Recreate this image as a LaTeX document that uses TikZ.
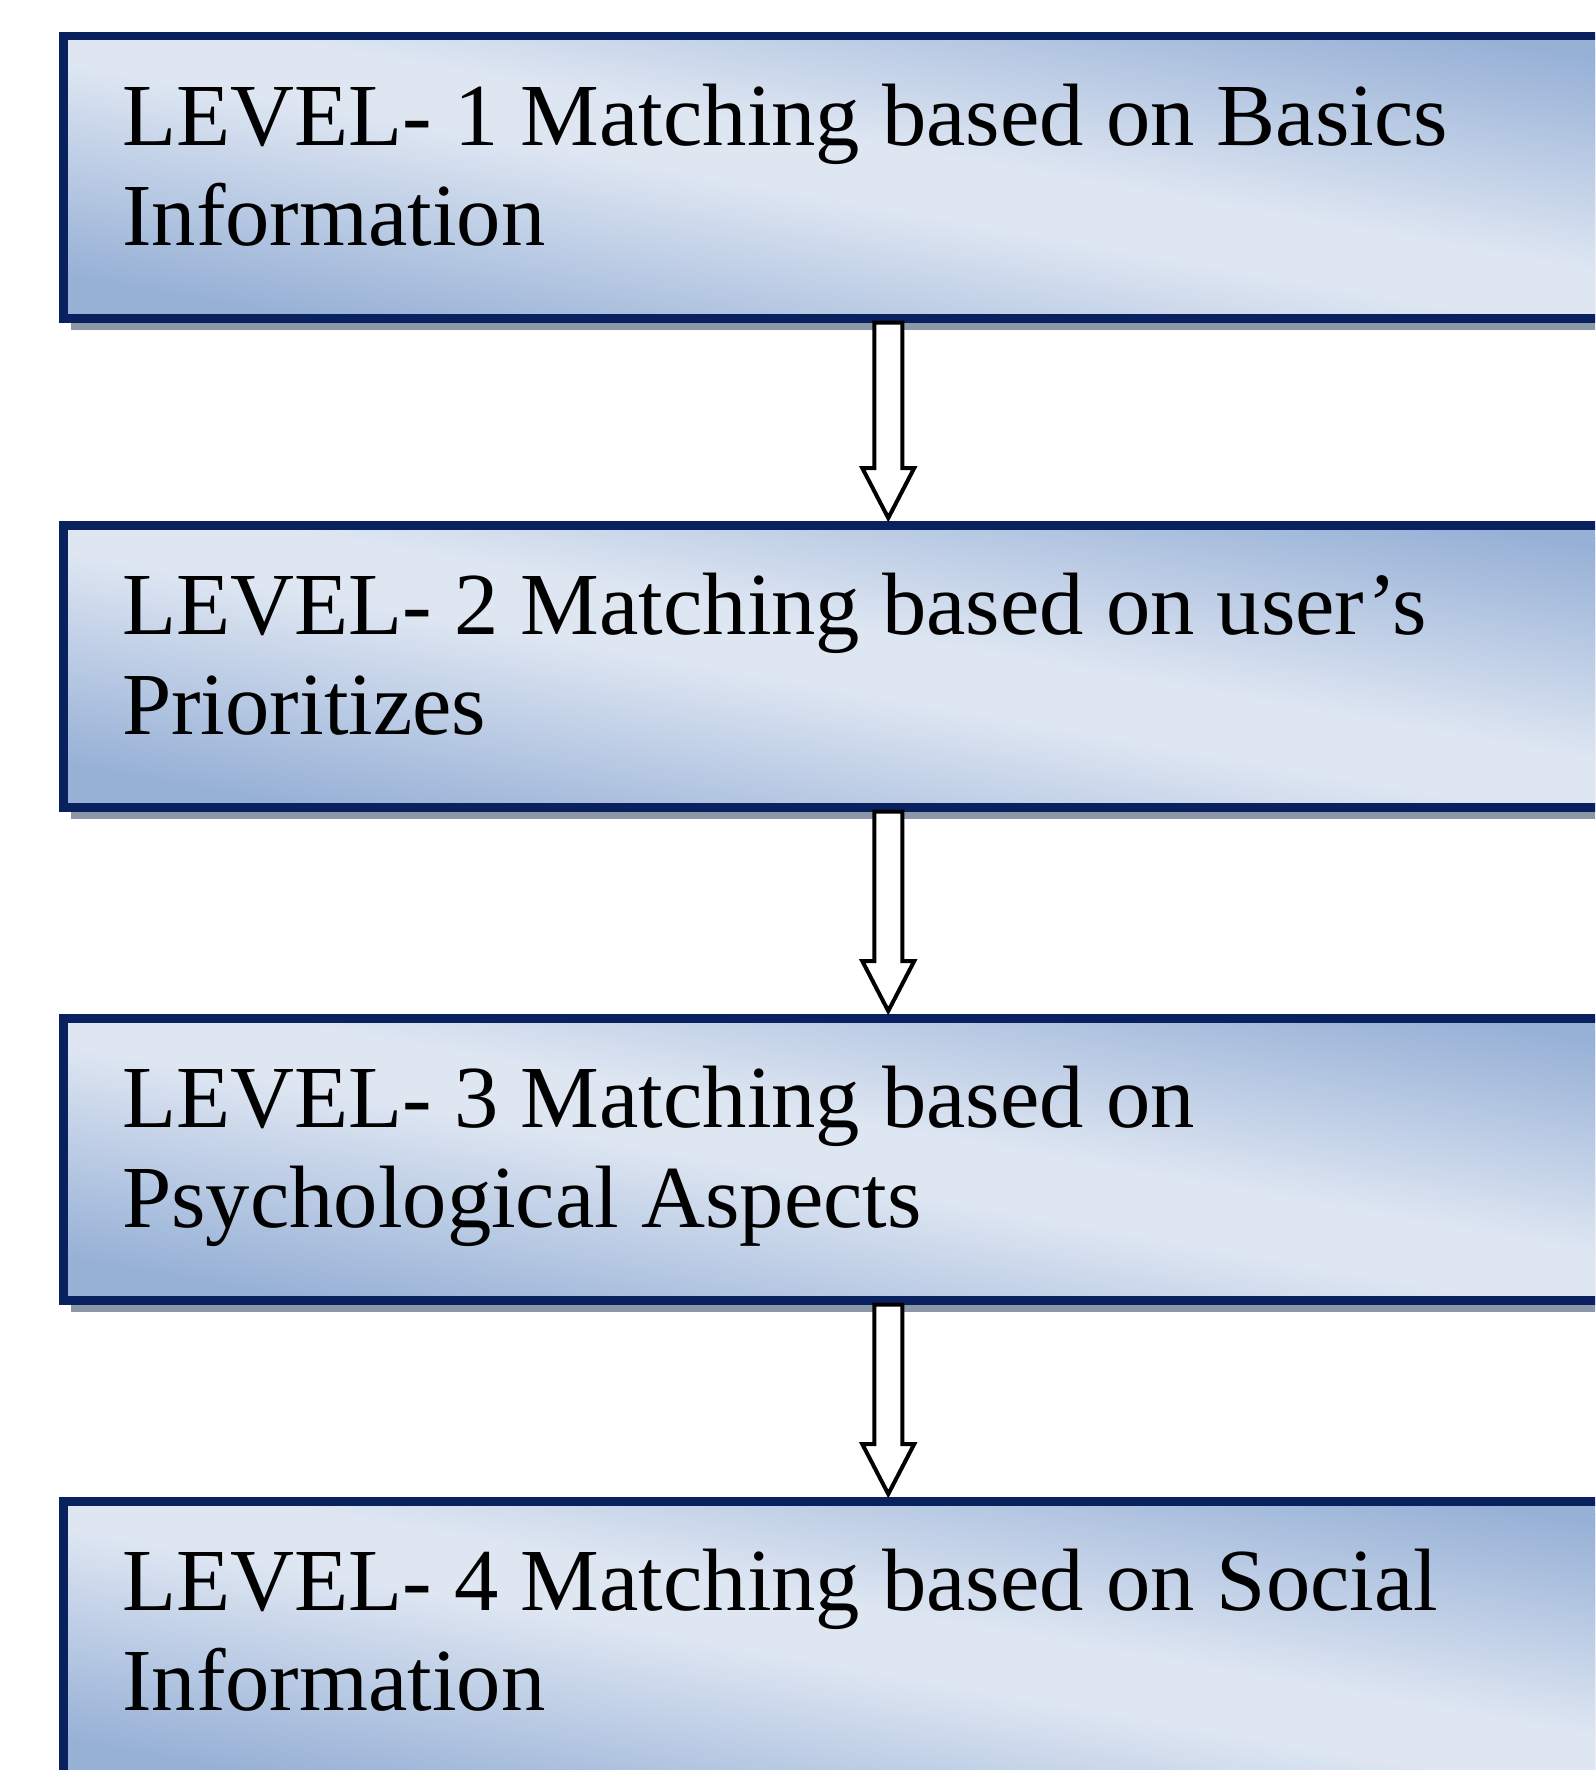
\documentclass[tikz,border=0pt]{standalone}
\usepackage{fontspec}
\setmainfont{Liberation Serif}
\usetikzlibrary{shadows}

\definecolor{levdark}{RGB}{150,176,214}
\definecolor{levlight}{RGB}{222,230,242}
\definecolor{levborder}{RGB}{10,33,96}
\definecolor{levshadow}{RGB}{140,152,168}

\pgfdeclarehorizontalshading{levshade}{100bp}{color(0bp)=(levdark); color(25bp)=(levdark);
  color(47bp)=(levlight); color(53bp)=(levlight); color(75bp)=(levdark); color(100bp)=(levdark)}

\begin{document}
\begin{tikzpicture}[
      levelbox/.style={draw=levborder, line width=0.085cm, anchor=north west,
        minimum width=16.5cm, minimum height=2.82cm, text width=15.32cm,
        inner xsep=0.59cm, align=flush left,
        shading=levshade, shading angle=80,
        drop shadow={shadow xshift=0.08cm, shadow yshift=-0.12cm, fill=levshadow, opacity=1},
        font=\fontsize{25.2}{28.7}\selectfont,
        execute at end node={\rule[-0.25cm]{0pt}{0pt}}},
      hollowarrow/.style={draw=black, fill=white, line width=0.04cm, line join=miter}
    ]

    \useasboundingbox (0,0) rectangle (15.95,-17.70);
    \clip (0,0) rectangle (15.95,-17.70);

    % the four matching levels
    \foreach \i/\y/\txt in {1/0.32/{LEVEL- 1 Matching based on Basics\\Information},
                            2/5.21/{LEVEL- 2 Matching based on user’s\\Prioritizes},
                            3/10.14/{LEVEL- 3 Matching based on\\Psychological Aspects},
                            4/14.97/{LEVEL- 4 Matching based on Social\\Information}} {
      \node[levelbox] (lvl\i) at (0.59,-\y) {\txt};
    }

    % hollow block arrows between levels
    \foreach \a/\b in {1/2,2/3,3/4} {
      \draw[hollowarrow] ([xshift=-0.14cm]lvl\a.south)
        -- ([xshift=-0.14cm,yshift=0.53cm]lvl\b.north)
        -- ([xshift=-0.26cm,yshift=0.53cm]lvl\b.north)
        -- ([yshift=0.03cm]lvl\b.north)
        -- ([xshift=0.26cm,yshift=0.53cm]lvl\b.north)
        -- ([xshift=0.14cm,yshift=0.53cm]lvl\b.north)
        -- ([xshift=0.14cm]lvl\a.south) -- cycle;
    }
  \end{tikzpicture}
\end{document}
